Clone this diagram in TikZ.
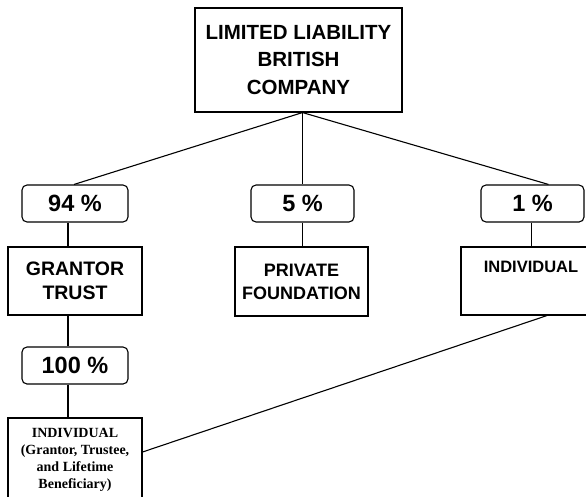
\documentclass[tikz,border=0pt]{standalone}
\usepackage{fontspec}
\setmainfont{Liberation Sans}
\newfontfamily\timesfont{Liberation Serif}
\usepackage{tikz}

\begin{document}
\begin{tikzpicture}[x=1pt, y=-1pt,
    box/.style={draw, line width=1.1pt, align=center, inner sep=0pt},
    pct/.style={box, rounded corners=5pt, minimum width=103pt, minimum height=37pt,
                font=\bfseries\fontsize{23.5}{27}\selectfont},
    link/.style={line width=1.1pt}]
  \useasboundingbox (0,0) rectangle (586,496);
  \clip (0,0) rectangle (586,496);

  % top company
  \node[box, minimum width=207pt, minimum height=104pt,
        font=\bfseries\fontsize{20.5}{27.5}\selectfont] (llc) at (298.5,60)
        {LIMITED LIABILITY\\BRITISH\\COMPANY};

  % shares
  \node[pct, minimum width=106pt] (p94) at (75,203.5) {94 \%};
  \node[pct] (p5) at (302.5,203.5) {5 \%};
  \node[pct] (p1) at (532.5,203.5) {1 \%};

  % owners
  \node[box, minimum width=134pt, minimum height=68pt,
        font=\bfseries\fontsize{19.5}{23.5}\selectfont] (trust) at (75,281)
        {GRANTOR\\TRUST};
  \node[box, minimum width=133pt, minimum height=69pt,
        font=\bfseries\fontsize{18}{23}\selectfont] (found) at (301.5,281.5)
        {PRIVATE\\FOUNDATION};
  \node[box, minimum width=140pt, minimum height=68pt,
        font=\bfseries\fontsize{16.5}{22}\selectfont] (indiv) at (531,281)
        {INDIVIDUAL\\\strut};
  \node[pct, minimum width=106pt] (p100) at (75,365.5) {100 \%};
  \node[box, minimum width=134pt, minimum height=84pt,
        font=\timesfont\bfseries\fontsize{14}{17}\selectfont] (person) at (75,460)
        {INDIVIDUAL\\(Grantor, Trustee,\\and Lifetime\\Beneficiary)};

  % connectors
  \coordinate (hub) at ([xshift=4pt]llc.south);
  \draw[link] (hub) -- ([xshift=-1pt]p94.north);
  \draw[link] (hub) -- (hub |- p5.north);
  \draw[link] (hub) -- ([xshift=16pt]p1.north);
  \draw[link] ([xshift=-7pt]p94.south) -- ([xshift=-7pt]p94.south |- trust.north);
  \draw[link] (p5.south) -- (p5.south |- found.north);
  \draw[link] ([xshift=-1pt]p1.south) -- ([xshift=-1pt]p1.south |- indiv.north);
  \draw[link] ([xshift=-7pt]trust.south) -- ([xshift=-7pt]trust.south |- p100.north);
  \draw[link] ([xshift=-7pt]p100.south) -- ([xshift=-7pt]p100.south |- person.north);
  \draw[link] ([xshift=16pt]indiv.south) -- ([yshift=8pt]person.east);
\end{tikzpicture}
\end{document}
